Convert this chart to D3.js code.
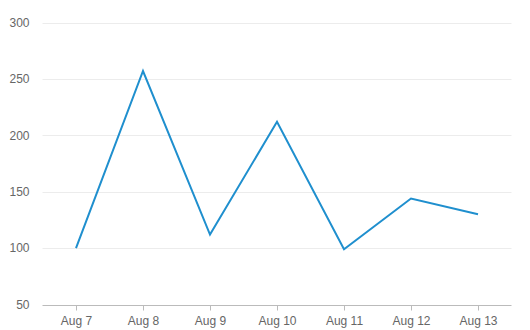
<!DOCTYPE html>
<html>
<head>
<meta charset="utf-8">
<script src="https://cdn.jsdelivr.net/npm/d3@7"></script>
<style>
  body { margin: 0; background: #fff; }
  svg { display: block; font-family: "Liberation Sans", Arial, sans-serif; }
</style>
</head>
<body>
<svg id="chart" width="530" height="330"></svg>
<script>
const days = ["Aug 7", "Aug 8", "Aug 9", "Aug 10", "Aug 11", "Aug 12", "Aug 13"];
const visits = [100, 257, 112, 212, 99, 144, 130];
const yTicks = [50, 100, 150, 200, 250, 300];

const svg = d3.select("#chart");
const margin = { top: 22.5, right: 18.5, bottom: 25.5, left: 42.5 };
const width = +svg.attr("width");
const height = +svg.attr("height");

const x = d3
  .scalePoint()
  .domain(days)
  .range([margin.left, width - margin.right])
  .padding(0.5);

const y = d3
  .scaleLinear()
  .domain([50, 300])
  .range([height - margin.bottom, margin.top]);

// horizontal grid
svg
  .append("g")
  .selectAll("line")
  .data(yTicks.slice(1))
  .join("line")
  .attr("x1", margin.left)
  .attr("x2", width - margin.right)
  .attr("y1", (d) => Math.round(y(d)) + 0.5)
  .attr("y2", (d) => Math.round(y(d)) + 0.5)
  .attr("stroke", "#ececec");

// y labels
svg
  .append("g")
  .selectAll("text")
  .data(yTicks)
  .join("text")
  .attr("x", margin.left - 13)
  .attr("y", (d) => y(d))
  .attr("dy", "0.35em")
  .attr("text-anchor", "end")
  .attr("fill", "#666")
  .attr("font-size", 12)
  .text((d) => d);

// x axis
const xAxis = svg
  .append("g")
  .attr("transform", `translate(0,${Math.round(y(50)) + 0.5})`)
  .call(d3.axisBottom(x).tickSize(5).tickPadding(6).tickSizeOuter(0));

xAxis.select(".domain").attr("stroke", "#bbb").attr("d", `M${margin.left},0H${width - margin.right}`);
xAxis.selectAll(".tick line").attr("stroke", "#bbb");
xAxis
  .selectAll(".tick text")
  .attr("fill", "#666")
  .attr("font-size", 12)
  .attr("font-family", "Liberation Sans, Arial, sans-serif");

// series line
const line = d3
  .line()
  .x((d, i) => x(days[i]))
  .y((d) => y(d));

svg
  .append("path")
  .datum(visits)
  .attr("fill", "none")
  .attr("stroke", "#1f8fce")
  .attr("stroke-width", 2)
  .attr("stroke-linejoin", "miter")
  .attr("d", line);
</script>
</body>
</html>
